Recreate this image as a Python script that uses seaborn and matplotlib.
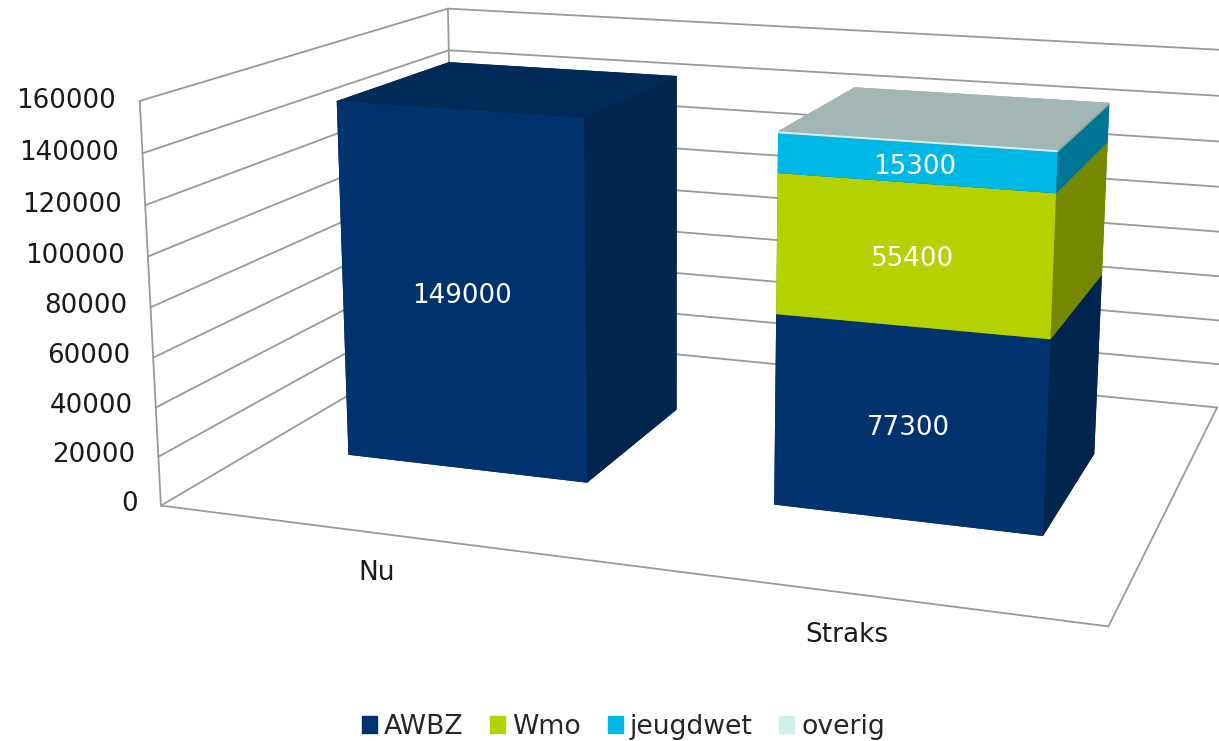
import matplotlib
matplotlib.use('Agg')
import matplotlib.pyplot as plt
from matplotlib.patches import Patch
import numpy as np
import pandas as pd
import seaborn as sns

sns.set_theme(style='white')
plt.rcParams['font.family'] = ['DejaVu Sans']

categories = ['Nu', 'Straks']
series = ['AWBZ', 'Wmo', 'jeugdwet', 'overig']
awbz = [149000, 77300]
wmo = [0, 55400]
jeugdwet = [0, 15300]
overig = [0, 800]
ticks = [0, 20000, 40000, 60000, 80000, 100000, 120000, 140000, 160000]

# front, top and side colour for every series
front = ['#00336e', '#b4d200', '#00b8e6', '#d0efea']
side = ['#00264f', '#748800', '#007594', '#8ca5a2']
top = ['#002a58', '#90a800', '#0090b8', '#a2b6b3']

df = pd.DataFrame({'AWBZ': awbz, 'Wmo': wmo, 'jeugdwet': jeugdwet, 'overig': overig}, index=categories)

fig = plt.figure(figsize=(12.19, 7.41), dpi=100)
ax = fig.add_axes([0.1082, -0.1605, 0.9467, 1.5574], projection='3d', computed_zorder=False)
ax.set_proj_type('persp', focal_length=0.394)
ax.view_init(elev=13.8, azim=-71.3, roll=-0.3)
ax.set_box_aspect((0.379, 0.277, 0.1632))
ax.set_xlim(0, 2)
ax.set_ylim(0, 1)
ax.set_zlim(0, 160000)
ax.set_axis_off()

grid = '#999999'
# floor, left wall and back wall lines
ax.plot([0, 2, 2], [0, 0, 1], [0, 0, 0], color=grid, lw=1.3, zorder=1)
for t in ticks:
    ax.plot([0, 0, 2], [0, 1, 1], [t, t, t], color=grid, lw=1.3, zorder=1)
    ax.text(-0.055, 0, t - 500, str(t), ha='right', va='center', fontsize=18.8, color='#1a1a1a')
ax.plot([0, 0], [0, 0], [0, 160000], color=grid, lw=1.3, zorder=1)
ax.plot([0, 0], [1, 1], [0, 160000], color=grid, lw=1.3, zorder=1)

bar_w = 0.575
bar_d = 0.39
bar_y = 0.3
z = 2
for i, cat in enumerate(categories):
    base = 0
    x0 = i + (1 - bar_w) / 2
    for j, name in enumerate(series):
        v = df.loc[cat, name]
        if v == 0:
            continue
        # faces: -z, +z, -y, +y, -x, +x
        cols = [side[j], top[j], front[j], side[j], side[j], side[j]]
        ax.bar3d(x0, bar_y, base, bar_w, bar_d, v, color=cols, shade=False, zorder=z, linewidth=0)
        z += 1
        if name != 'overig':
            ax.text(x0 + bar_w / 2, bar_y, base + v / 2 - 1500, str(v), ha='center', va='center',
                    fontsize=18.8, color='white', zorder=50)
        base += v
    ax.text(i + 0.5, 0, -16000, cat, ha='center', va='center', fontsize=19, color='#1a1a1a')

handles = [Patch(color=c, label=s) for c, s in zip(front, series)]
fig.legend(handles=handles, loc='lower center', ncol=4, frameon=False, fontsize=19.2,
           handlelength=0.56, handleheight=0.56, handletextpad=0.27, columnspacing=0.99,
           bbox_to_anchor=(0.5115, -0.031))

fig.savefig('out.png', dpi=100)
